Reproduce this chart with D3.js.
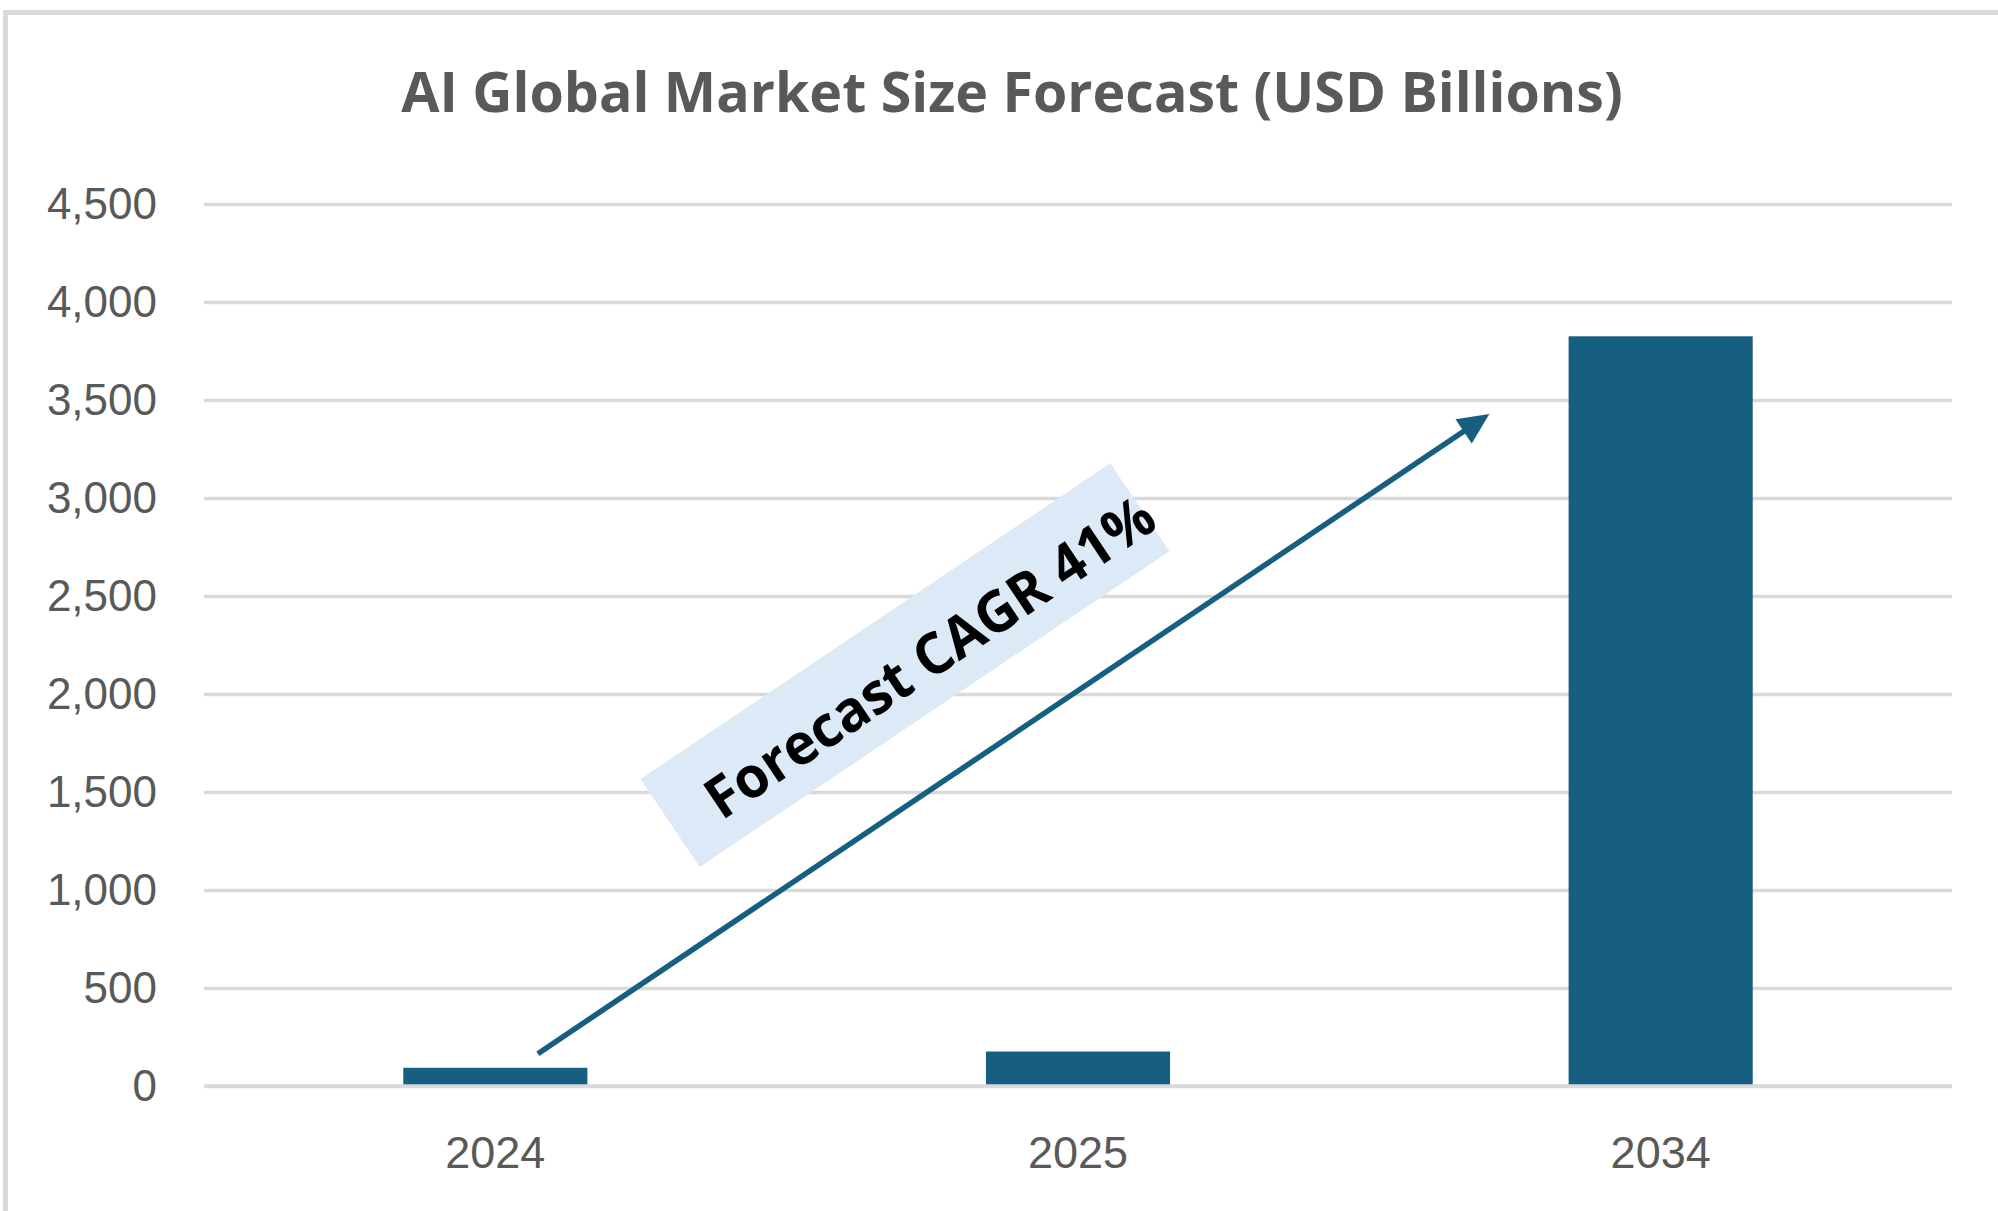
<!DOCTYPE html>
<html>
<head>
<meta charset="utf-8">
<script src="https://cdn.jsdelivr.net/npm/d3@7"></script>
<style>
	body { margin: 0; background: #fff; }
	svg { display: block; }
	.tick text { font-family: "Liberation Sans", Arial, sans-serif; fill: #595959; }
</style>
</head>
<body>
<div id="chart"></div>
<script>
/* eslint-disable no-magic-numbers */

// chart data
var chartTitle = "AI Global Market Size Forecast (USD Billions)";
var years = ["2024", "2025", "2034"];
var marketSize = [93, 176, 3825];
var yTicks = [0, 500, 1000, 1500, 2000, 2500, 3000, 3500, 4000, 4500];

// CAGR annotation, placed in data units (category + share of a step, value)
var cagrLabel = "Forecast CAGR 41%";
var arrowFrom = { year: "2024", shift: 0.073, value: 165 };
var arrowTo = { year: "2034", shift: -0.294, value: 3428 };
var labelAt = { year: "2024", shift: 0.703, value: 2147 };

(function() {
	'use strict';

	var origWidth = 1998,
		origHeight = 1211,
		margin = { top: 204, right: 46, bottom: 125, left: 204 },
		width = origWidth - margin.left - margin.right,
		height = origHeight - margin.top - margin.bottom,
		barColor = "#175f80",
		gridColor = "#d9d9d9",
		textColor = "#595959",
		titleWidth = 1222;

	var data = years.map(function(d, i) { return { year: d, value: marketSize[i] }; });

	var svgRoot = d3.select("#chart").append("svg")
		.attr("width", origWidth)
		.attr("height", origHeight)
		.attr("viewBox", "0 0 " + origWidth + " " + origHeight);

	// chart area border (runs off the right and bottom edge)
	svgRoot.append("rect")
		.attr("x", 5.5)
		.attr("y", 12.5)
		.attr("width", origWidth + 40)
		.attr("height", origHeight + 40)
		.attr("fill", "#fff")
		.attr("stroke", gridColor)
		.attr("stroke-width", 5);

	var title = svgRoot.append("text")
		.attr("x", 1012)
		.attr("y", 112)
		.attr("text-anchor", "middle")
		.style("font-family", "'Open Sans', Lato, sans-serif")
		.style("font-weight", 700)
		.style("font-size", "48px")
		.style("fill", textColor)
		.text(chartTitle);

	// size the title so it spans the same width as the original
	var tw = title.node().getComputedTextLength();
	if (tw > 0) title.style("font-size", (48 * titleWidth / tw) + "px");

	var svg = svgRoot.append("g")
		.attr("transform", "translate(" + margin.left + "," + margin.top + ")");

	var x = d3.scaleBand()
		.domain(years)
		.range([0, width])
		.paddingInner(0.684)
		.paddingOuter(0.342);

	var y = d3.scaleLinear()
		.domain([0, 4500])
		.range([height, 0]);

	var yAxis = function(g) {
		g.call(d3.axisLeft(y)
			.tickValues(yTicks)
			.tickFormat(d3.format(","))
			.tickSize(-width)
			.tickPadding(47))
			.call(function(h) { h.select(".domain").remove(); });
		g.selectAll(".tick line")
			.attr("stroke", gridColor)
			.attr("stroke-width", 3.5);
		g.selectAll(".tick text").style("font-size", "44px");
	};

	var xAxis = function(g) {
		g.attr("transform", "translate(0," + height + ")")
			.call(d3.axisBottom(x).tickSize(0).tickPadding(50))
			.call(function(h) { h.select(".domain").remove(); });
		g.selectAll(".tick text").style("font-size", "45px");
	};

	svg.append("g").call(yAxis);

	svg.append("g")
		.selectAll("rect")
		.data(data)
		.join("rect")
		.attr("x", function(d) { return x(d.year); })
		.attr("y", function(d) { return y(d.value); })
		.attr("width", x.bandwidth())
		.attr("height", function(d) { return y(0) - y(d.value); })
		.attr("fill", barColor);

	// zero line sits over the bars
	svg.append("line")
		.attr("x1", 0)
		.attr("x2", width)
		.attr("y1", y(0))
		.attr("y2", y(0))
		.attr("stroke", gridColor)
		.attr("stroke-width", 3.5);

	svg.append("g").call(xAxis);

	// annotation
	function px(p) { return x(p.year) + x.bandwidth() / 2 + p.shift * x.step(); }
	function py(p) { return y(p.value); }

	var x0 = px(arrowFrom), y0 = py(arrowFrom),
		x1 = px(arrowTo), y1 = py(arrowTo),
		angle = Math.atan2(y1 - y0, x1 - x0) * 180 / Math.PI,
		headLen = 31,
		headHalf = 14.6;

	var label = svg.append("g")
		.attr("transform", "translate(" + px(labelAt) + "," + py(labelAt) + ") rotate(" + angle + ")");

	label.append("rect")
		.attr("x", -283)
		.attr("y", -53)
		.attr("width", 566)
		.attr("height", 106)
		.attr("fill", "#dce9f6");

	label.append("text")
		.attr("x", -239)
		.attr("y", 27)
		.attr("textLength", 528)
		.attr("lengthAdjust", "spacingAndGlyphs")
		.style("font-family", "'Open Sans', Lato, sans-serif")
		.style("font-weight", 700)
		.style("font-size", "57px")
		.style("fill", "#000")
		.text(cagrLabel);

	var arrow = svg.append("g")
		.attr("transform", "translate(" + x0 + "," + y0 + ") rotate(" + angle + ")");
	var len = Math.hypot(x1 - x0, y1 - y0);

	arrow.append("line")
		.attr("x1", 0)
		.attr("y1", 0)
		.attr("x2", len - headLen + 2)
		.attr("y2", 0)
		.attr("stroke", barColor)
		.attr("stroke-width", 5.5);

	arrow.append("path")
		.attr("d", "M" + len + ",0L" + (len - headLen) + "," + (-headHalf) + "L" + (len - headLen) + "," + headHalf + "Z")
		.attr("fill", barColor);
})();
</script>
</body>
</html>
